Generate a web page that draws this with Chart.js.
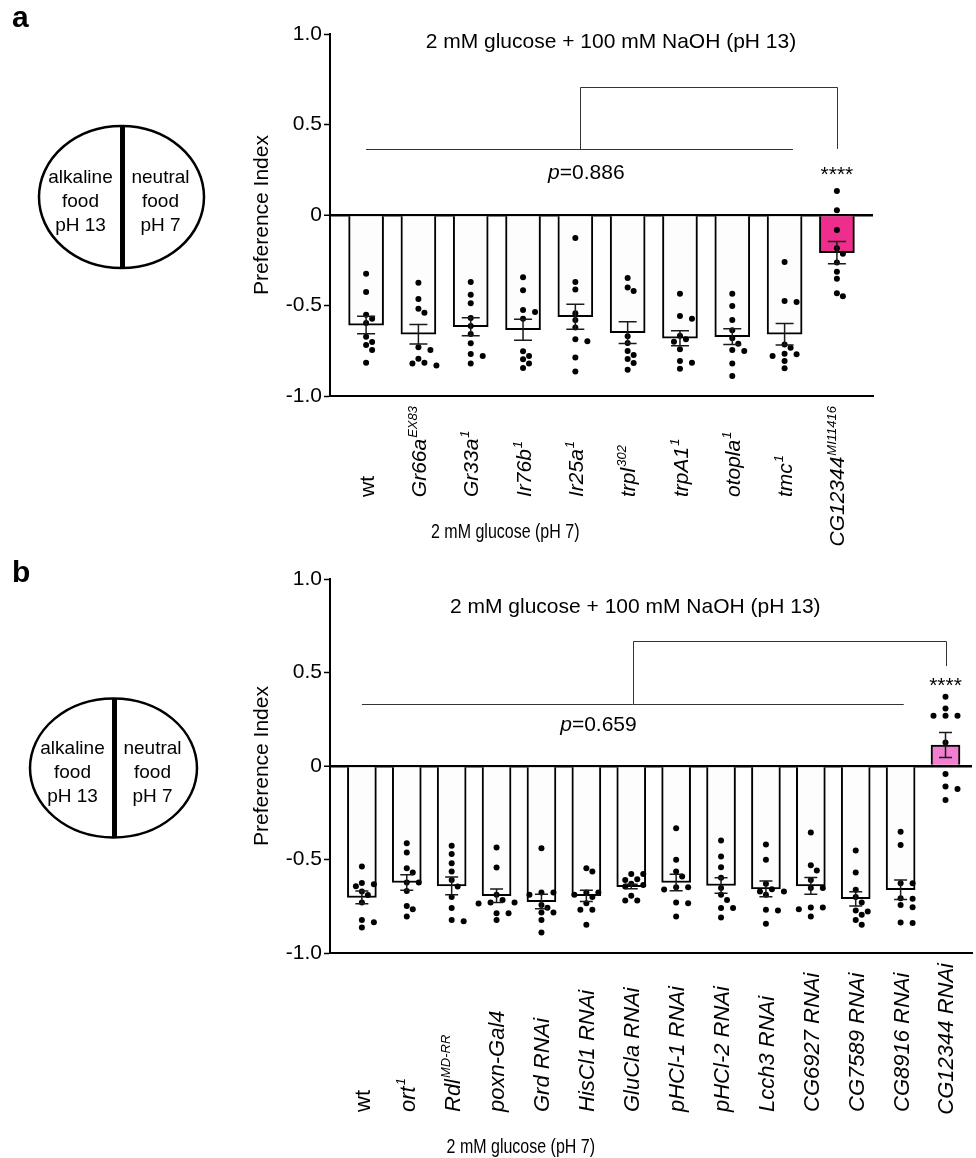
<!DOCTYPE html>
<html>
<head>
<meta charset="utf-8">
<script src="https://cdn.jsdelivr.net/npm/chart.js@4.4.1/dist/chart.umd.min.js"></script>
<style>
  html, body { margin: 0; padding: 0; background: #fff; }
  #wrap { position: relative; width: 976px; height: 1158px; }
  canvas { position: absolute; left: 0; }
  #chartA { top: 0; }
  #chartB { top: 560px; }
</style>
</head>
<body>
<div id="wrap">
  <canvas id="chartA" width="976" height="560"></canvas>
  <canvas id="chartB" width="976" height="598"></canvas>
</div>
<script>
Chart.defaults.font.family = '"Liberation Sans", Arial, Helvetica, sans-serif';
Chart.defaults.color = '#000';
const FAM = Chart.defaults.font.family;

// shared axis / text content
const yTickValues = [-1, -0.5, 0, 0.5, 1];
const yTickLabels = ['-1.0', '-0.5', '0', '0.5', '1.0'];
const yTitle = 'Preference Index';
const testTitle = '2 mM glucose + 100 mM NaOH (pH 13)';
const controlTitle = '2 mM glucose (pH 7)';
const dishLeft = ['alkaline', 'food', 'pH 13'];
const dishRight = ['neutral', 'food', 'pH 7'];

// ---- panel a ----
const groupsA = ['wt', 'Gr66a', 'Gr33a', 'Ir76b', 'Ir25a', 'trpl', 'trpA1', 'otopla', 'tmc', 'CG12344'];
const allelesA = ['', 'EX83', '1', '1', '1', '302', '1', '1', '1', 'MI11416'];
const meansA = [-0.608, -0.659, -0.617, -0.634, -0.562, -0.650, -0.681, -0.672, -0.659, -0.208];
const semA = [0.048, 0.054, 0.050, 0.058, 0.069, 0.060, 0.042, 0.043, 0.059, 0.062];
const dotsA = [
  [-0.324, -0.425, -0.551, -0.573, -0.597, -0.672, -0.702, -0.718, -0.746, -0.816],
  [-0.374, -0.464, -0.518, -0.540, -0.731, -0.746, -0.794, -0.816, -0.820, -0.831],
  [-0.370, -0.440, -0.488, -0.569, -0.613, -0.657, -0.709, -0.768, -0.779, -0.820],
  [-0.344, -0.416, -0.525, -0.536, -0.573, -0.753, -0.779, -0.797, -0.820, -0.845],
  [-0.127, -0.370, -0.411, -0.543, -0.580, -0.621, -0.687, -0.698, -0.787, -0.864],
  [-0.348, -0.401, -0.420, -0.670, -0.707, -0.751, -0.773, -0.796, -0.818, -0.855],
  [-0.435, -0.558, -0.573, -0.667, -0.687, -0.700, -0.742, -0.807, -0.816, -0.849],
  [-0.435, -0.503, -0.580, -0.637, -0.681, -0.711, -0.746, -0.751, -0.821, -0.890],
  [-0.260, -0.475, -0.481, -0.715, -0.733, -0.766, -0.770, -0.779, -0.807, -0.847],
  [0.133, 0.026, -0.083, -0.184, -0.214, -0.263, -0.313, -0.352, -0.433, -0.449]
];
const pValueA = '0.886';

// ---- panel b ----
const groupsB = ['wt', 'ort', 'Rdl', 'poxn-Gal4', 'Grd RNAi', 'HisCl1 RNAi', 'GluCla RNAi', 'pHCl-1 RNAi',
  'pHCl-2 RNAi', 'Lcch3 RNAi', 'CG6927 RNAi', 'CG7589 RNAi', 'CG8916 RNAi', 'CG12344 RNAi'];
const allelesB = ['', '1', 'MD-RR', '', '', '', '', '', '', '', '', '', '', ''];
const meansB = [-0.703, -0.623, -0.641, -0.694, -0.725, -0.694, -0.645, -0.623, -0.639, -0.657, -0.641, -0.710, -0.662, 0.112];
const semB = [0.034, 0.041, 0.047, 0.036, 0.039, 0.030, 0.012, 0.044, 0.042, 0.042, 0.045, 0.038, 0.052, 0.067];
const dotsB = [
  [-0.538, -0.625, -0.632, -0.643, -0.671, -0.690, -0.730, -0.823, -0.835, -0.864],
  [-0.413, -0.463, -0.547, -0.570, -0.623, -0.623, -0.668, -0.748, -0.766, -0.805],
  [-0.427, -0.470, -0.520, -0.564, -0.610, -0.645, -0.700, -0.760, -0.823, -0.830],
  [-0.436, -0.543, -0.689, -0.716, -0.730, -0.730, -0.735, -0.787, -0.787, -0.823],
  [-0.440, -0.677, -0.677, -0.689, -0.743, -0.758, -0.783, -0.783, -0.823, -0.890],
  [-0.547, -0.564, -0.677, -0.677, -0.689, -0.700, -0.734, -0.769, -0.769, -0.849],
  [-0.577, -0.577, -0.605, -0.609, -0.630, -0.636, -0.645, -0.694, -0.719, -0.719],
  [-0.333, -0.502, -0.564, -0.591, -0.648, -0.648, -0.660, -0.730, -0.734, -0.805],
  [-0.399, -0.484, -0.541, -0.598, -0.653, -0.689, -0.716, -0.760, -0.760, -0.810],
  [-0.420, -0.502, -0.630, -0.659, -0.671, -0.671, -0.689, -0.769, -0.773, -0.844],
  [-0.356, -0.531, -0.559, -0.609, -0.653, -0.653, -0.757, -0.757, -0.766, -0.805],
  [-0.452, -0.570, -0.662, -0.700, -0.730, -0.773, -0.778, -0.796, -0.823, -0.849],
  [-0.351, -0.422, -0.627, -0.627, -0.707, -0.710, -0.743, -0.755, -0.837, -0.840],
  [0.370, 0.308, 0.269, 0.269, 0.269, 0.126, -0.043, -0.110, -0.123, -0.182]
];
const pValueB = '0.659';

// simple beeswarm: spread dots sideways (in pixels) so they don't overlap
function swarm(chart, groups) {
  const xs = chart.scales.x, ys = chart.scales.y;
  const unit = xs.getPixelForValue(1) - xs.getPixelForValue(0);
  const step = 6, dmin = 6.6;
  const out = [];
  groups.forEach((vals, i) => {
    const placed = [];
    vals.slice().sort((a, b) => b - a).forEach(v => {
      const py = ys.getPixelForValue(v);
      const cands = [0];
      for (let k = 1; k < 10; k++) cands.push(k * step, -k * step);
      let off = 0;
      for (const c of cands) {
        if (placed.every(p => Math.hypot(p.x - c, p.y - py) >= dmin)) { off = c; break; }
      }
      placed.push({ x: off, y: py });
      out.push({ x: i + off / unit, y: v });
    });
  });
  return out;
}

// error bars, comparison bracket, labels and the dish sketch
const figureDecor = {
  id: 'figureDecor',
  afterDraw(chart, args, o) {
    const ctx = chart.ctx;
    const xs = chart.scales.x, ys = chart.scales.y;
    const X = v => xs.getPixelForValue(v), Y = v => ys.getPixelForValue(v);
    ctx.save();

    // SEM bars
    ctx.strokeStyle = '#1a1a1a';
    ctx.lineWidth = 1.5;
    o.means.forEach((m, i) => {
      const x = X(i), y1 = Y(m + o.sems[i]), y2 = Y(m - o.sems[i]);
      ctx.beginPath();
      ctx.moveTo(x, y1); ctx.lineTo(x, y2);
      ctx.moveTo(x - o.cap, y1); ctx.lineTo(x + o.cap, y1);
      ctx.moveTo(x - o.cap, y2); ctx.lineTo(x + o.cap, y2);
      ctx.stroke();
    });

    // comparison lines
    const s = o.sig;
    ctx.strokeStyle = '#333';
    ctx.lineWidth = 1;
    const ly = Math.round(Y(s.lineY)) + 0.5, ty = Math.round(Y(s.top)) + 0.5;
    const mid = Math.round(X(s.lineEnd / 2)) + 0.5, tx = Math.round(X(s.target)) + 0.5;
    ctx.beginPath();
    ctx.moveTo(X(0), ly); ctx.lineTo(X(s.lineEnd), ly);
    ctx.moveTo(mid, ly); ctx.lineTo(mid, ty); ctx.lineTo(tx, ty); ctx.lineTo(tx, Y(s.drop));
    ctx.stroke();

    ctx.fillStyle = '#000';
    ctx.textBaseline = 'middle';

    // title
    ctx.font = '21px ' + FAM;
    ctx.textAlign = 'center';
    ctx.fillText(testTitle, X(o.title.x), Y(o.title.y));

    // p value
    ctx.textAlign = 'left';
    ctx.font = 'italic 21px ' + FAM;
    const wp = ctx.measureText('p').width;
    ctx.font = '21px ' + FAM;
    const rest = '=' + o.pValue;
    const wr = ctx.measureText(rest).width;
    const px0 = X(o.pText.x) - (wp + wr) / 2, py0 = Y(o.pText.y);
    ctx.font = 'italic 21px ' + FAM;
    ctx.fillText('p', px0, py0);
    ctx.font = '21px ' + FAM;
    ctx.fillText(rest, px0 + wp, py0);

    // stars
    ctx.font = '21px ' + FAM;
    ctx.textAlign = 'center';
    ctx.textBaseline = 'alphabetic';
    ctx.fillText('****', X(s.target), Y(o.starY) + 12);

    // x labels (rotated, italic gene names with superscript alleles)
    const axisY = chart.chartArea.bottom;
    o.groups.forEach((g, i) => {
      const ital = g !== 'wt' ? 'italic ' : '';
      ctx.font = ital + o.labelSize + 'px ' + FAM;
      const w1 = ctx.measureText(g).width;
      ctx.font = 'italic 13px ' + FAM;
      const w2 = o.alleles[i] ? ctx.measureText(o.alleles[i]).width + 1 : 0;
      const bottom = Math.max(o.labelBottom, axisY + 10 + w1 + w2);
      ctx.save();
      ctx.translate(X(i), bottom);
      ctx.rotate(-Math.PI / 2);
      ctx.textAlign = 'left';
      ctx.textBaseline = 'alphabetic';
      ctx.font = ital + o.labelSize + 'px ' + FAM;
      const base = o.labelSize * 0.36;
      ctx.fillText(g, 0, base);
      if (o.alleles[i]) {
        ctx.font = 'italic 13px ' + FAM;
        ctx.fillText(o.alleles[i], w1 + 1, base - o.labelSize * 0.42);
      }
      ctx.restore();
    });

    // x group title (condensed)
    ctx.save();
    ctx.translate(X(o.xTitle.x), o.xTitle.y);
    ctx.scale(0.8, 1);
    ctx.font = '20px ' + FAM;
    ctx.textAlign = 'center';
    ctx.textBaseline = 'middle';
    ctx.fillText(controlTitle, 0, 0);
    ctx.restore();

    // panel letter
    ctx.font = 'bold 30px ' + FAM;
    ctx.textAlign = 'left';
    ctx.textBaseline = 'alphabetic';
    ctx.fillText(o.letter, 12, o.letterY);

    // two-choice dish
    const d = o.dish;
    ctx.strokeStyle = '#000';
    ctx.lineWidth = 2.5;
    ctx.beginPath();
    ctx.ellipse(d.cx, d.cy, d.rx, d.ry, 0, 0, Math.PI * 2);
    ctx.stroke();
    ctx.lineWidth = 5;
    ctx.beginPath();
    ctx.moveTo(d.cx + 1, d.cy - d.ry);
    ctx.lineTo(d.cx + 1, d.cy + d.ry);
    ctx.stroke();
    ctx.font = '19px ' + FAM;
    ctx.textAlign = 'center';
    dishLeft.forEach((t, k) => ctx.fillText(t, d.cx - 41, d.cy - 14 + k * 24));
    dishRight.forEach((t, k) => ctx.fillText(t, d.cx + 39, d.cy - 14 + k * 24));

    ctx.restore();
  }
};

function makePanel(id, p) {
  const n = p.groups.length;
  const chart = new Chart(document.getElementById(id), {
    type: 'bar',
    data: {
      datasets: [
        {
          type: 'bar',
          data: p.means.map((m, i) => ({ x: i, y: m })),
          backgroundColor: p.means.map((m, i) => i === n - 1 ? p.hit : '#fdfdfd'),
          borderColor: '#000',
          borderWidth: 2,
          barThickness: p.barWidth,
          order: 2
        },
        {
          type: 'scatter',
          data: p.dots.flatMap((vals, i) => vals.map(v => ({ x: i, y: v }))),
          backgroundColor: '#000',
          borderWidth: 0,
          pointRadius: 3,
          order: 1
        }
      ]
    },
    options: {
      responsive: false,
      animation: false,
      devicePixelRatio: 1,
      events: [],
      layout: { padding: p.padding },
      plugins: {
        legend: { display: false },
        tooltip: { enabled: false },
        figureDecor: p.decor
      },
      scales: {
        x: {
          type: 'linear',
          offset: false,
          min: p.xMin,
          max: p.xMax,
          ticks: { display: false },
          grid: { display: true, color: 'transparent', drawTicks: false },
          border: { display: true, color: '#000', width: 2 },
          afterFit: s => { s.height = 0; }
        },
        y: {
          min: -1,
          max: 1,
          z: 1,
          afterBuildTicks: s => { s.ticks = yTickValues.map(v => ({ value: v })); },
          ticks: {
            padding: 2,
            font: { size: 21 },
            color: '#000',
            callback: (v, i) => yTickLabels[i]
          },
          grid: {
            drawOnChartArea: true,
            tickLength: 6,
            tickColor: '#000',
            tickWidth: 1.5,
            color: c => c.tick && c.tick.value === 0 ? '#000' : 'transparent',
            lineWidth: c => c.tick && c.tick.value === 0 ? 2.5 : 1
          },
          border: { display: true, color: '#000', width: 2 },
          title: { display: true, text: yTitle, font: { size: 21 }, padding: 0 },
          afterFit: s => { s.width = 80; }
        }
      }
    },
    plugins: [figureDecor]
  });
  chart.data.datasets[1].data = swarm(chart, p.dots);
  chart.update('none');
  return chart;
}

makePanel('chartA', {
  groups: groupsA, means: meansA, dots: dotsA, hit: '#ee2e8c', barWidth: 35,
  xMin: -0.69, xMax: 9.69,
  padding: { left: 250, right: 103, top: 34, bottom: 164 },
  decor: {
    groups: groupsA, alleles: allelesA, means: meansA, sems: semA, cap: 9,
    pValue: pValueA, labelSize: 21, labelBottom: 497,
    sig: { lineY: 0.365, lineEnd: 8.16, top: 0.707, target: 9, drop: 0.365 },
    title: { x: 4.68, y: 0.956 }, pText: { x: 4.21, y: 0.232 }, starY: 0.254,
    xTitle: { x: 2.66, y: 532 },
    letter: 'a', letterY: 27,
    dish: { cx: 121.5, cy: 197, rx: 82.5, ry: 71 }
  }
});

makePanel('chartB', {
  groups: groupsB, means: meansB, dots: dotsB, hit: '#f07fcf', barWidth: 29,
  xMin: -0.71, xMax: 13.59,
  padding: { left: 250, right: 0, top: 19, bottom: 205 },
  decor: {
    groups: groupsB, alleles: allelesB, means: meansB, sems: semB, cap: 6.5,
    pValue: pValueB, labelSize: 22, labelBottom: 552,
    sig: { lineY: 0.331, lineEnd: 12.07, top: 0.668, target: 13, drop: 0.534 },
    title: { x: 6.09, y: 0.85 }, pText: { x: 5.27, y: 0.219 }, starY: 0.459,
    xTitle: { x: 3.54, y: 587 },
    letter: 'b', letterY: 22,
    dish: { cx: 113.5, cy: 208, rx: 83.5, ry: 69.5 }
  }
});
</script>
</body>
</html>
